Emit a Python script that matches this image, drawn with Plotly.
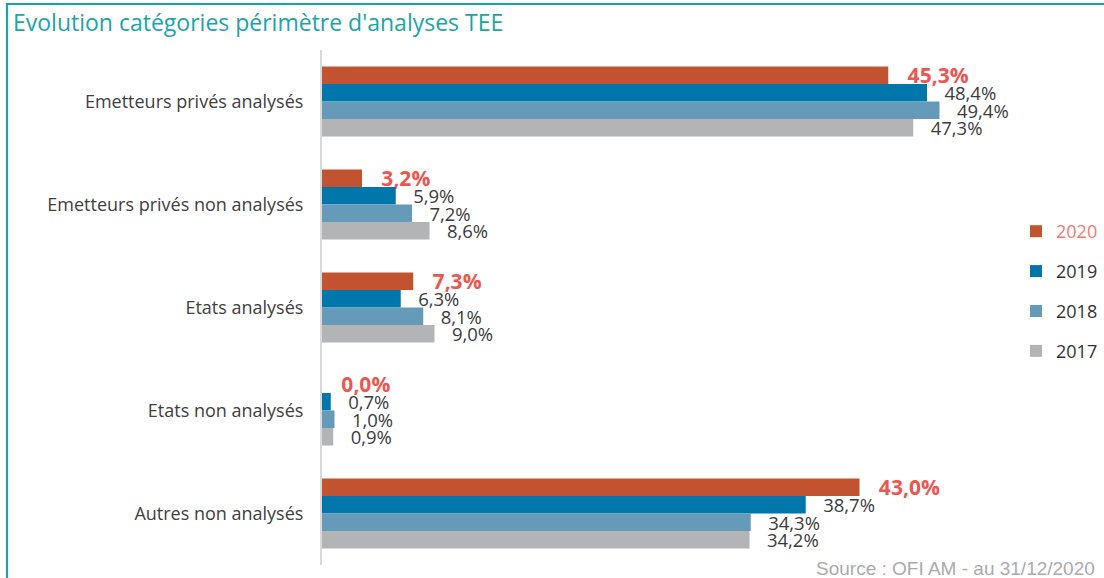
import plotly.graph_objects as go

categories = ["Emetteurs privés analysés", "Emetteurs privés non analysés",
              "Etats analysés", "Etats non analysés", "Autres non analysés"]
years = ["2020", "2019", "2018", "2017"]
v2020 = [45.3, 3.2, 7.3, 0.0, 43.0]
v2019 = [48.4, 5.9, 6.3, 0.7, 38.7]
v2018 = [49.4, 7.2, 8.1, 1.0, 34.3]
v2017 = [47.3, 8.6, 9.0, 0.9, 34.2]
series = [v2020, v2019, v2018, v2017]

bar_colors = ["#C25331", "#0076AA", "#659AB9", "#B3B4B6"]
label_colors = ["#EE5650", "#3C3C3C", "#3C3C3C", "#3C3C3C"]
legend_names = ['<span style="color:#F07A72">2020</span>', "2019", "2018", "2017"]

W, H = 1104, 578
L, R, T, B = 322, 132, 50, 13
PW, PH = W - L - R, H - T - B


def px2x(px):
    return (px - L) / PW


def py2y(py):
    return (H - B - py) / PH


def fmt(v):
    return "\u00a0\u00a0\u00a0" + f"{v:.1f}".replace(".", ",") + "%"


fig = go.Figure()
for i, (yr, vals) in enumerate(zip(years, series)):
    fig.add_trace(go.Bar(
        y=categories, x=vals, orientation="h", name=legend_names[i],
        marker=dict(color=bar_colors[i], line=dict(width=0)),
        text=[fmt(v) for v in vals], textposition="outside",
        constraintext="none", cliponaxis=False,
        textfont=dict(family="Open Sans", size=21 if i == 0 else 18.5,
                      color=label_colors[i],
                      weight="bold" if i == 0 else "normal"),
        legendgroup=yr, hoverinfo="skip",
    ))

fig.update_layout(
    width=W, height=H,
    margin=dict(l=L, r=R, t=T, b=B, autoexpand=False),
    paper_bgcolor="white", plot_bgcolor="white",
    barmode="group", bargap=0.32, bargroupgap=0,
    font=dict(family="Open Sans", color="#404040"),
    showlegend=True,
    legend=dict(x=px2x(1016), y=py2y(213), xanchor="left", yanchor="top",
                traceorder="grouped", tracegroupgap=13.5,
                font=dict(family="Open Sans", size=18, color="#333333"),
                bgcolor="rgba(0,0,0,0)"),
    xaxis=dict(range=[0, 52], visible=False, showgrid=False, zeroline=False),
    yaxis=dict(autorange="reversed", showgrid=False, zeroline=False,
               showline=True, linecolor="#D9D9D9", linewidth=2,
               ticks="", ticklabelstandoff=13,
               tickfont=dict(family="Open Sans", size=18, color="#404040")),
)

frame = "#15A6A9"
fig.add_shape(type="line", xref="paper", yref="paper",
              x0=px2x(6), x1=px2x(1104), y0=py2y(4), y1=py2y(4),
              line=dict(color=frame, width=2.2))
fig.add_shape(type="line", xref="paper", yref="paper",
              x0=px2x(7), x1=px2x(7), y0=py2y(3), y1=py2y(578),
              line=dict(color=frame, width=2.2))

fig.add_annotation(text="Evolution catégories périmètre d'analyses TEE",
                   xref="paper", yref="paper", x=px2x(11), y=py2y(22),
                   xanchor="left", yanchor="middle", showarrow=False,
                   font=dict(family="Open Sans", size=23, color="#1AA5A8"))
fig.add_annotation(text="Source : OFI AM - au 31/12/2020",
                   xref="paper", yref="paper", x=px2x(1097), y=py2y(568),
                   xanchor="right", yanchor="middle", showarrow=False,
                   font=dict(family="Liberation Sans", size=19, color="#ABABAB"))

fig.write_html("out.html",
               config={"displayModeBar": False},
               post_script="document.body.style.margin='0';"
                           "document.body.style.overflow='hidden';")
